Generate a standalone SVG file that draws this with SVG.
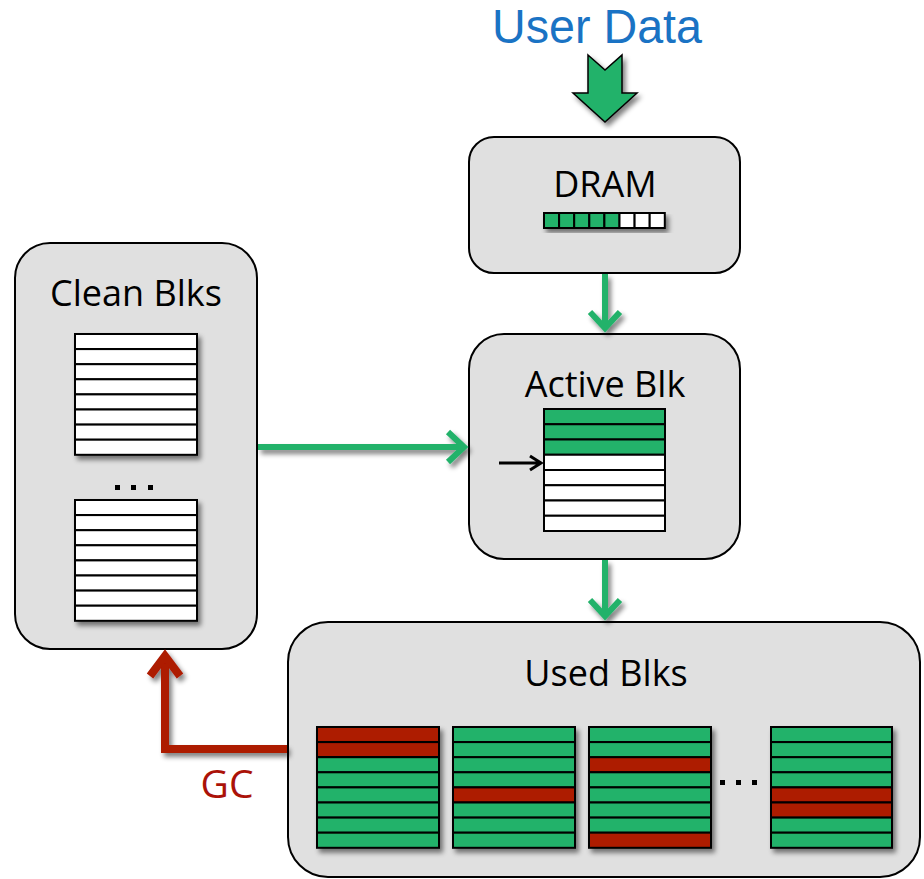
<svg xmlns="http://www.w3.org/2000/svg" width="924" height="879" viewBox="0 0 924 879">
<defs>
<style>
.box{fill:#e0e0e0;stroke:#000;stroke-width:2}
.lbl{font-family:"Open Sans","Noto Sans",sans-serif;font-size:36px;fill:#000;text-anchor:middle}
.g{fill:#23b26a;stroke:#000;stroke-width:2}
.r{fill:#ad1a00;stroke:#000;stroke-width:2}
.w{fill:#fff;stroke:#000;stroke-width:2}
.gl{fill:none;stroke:#23b26a;stroke-width:6}
.rl{fill:none;stroke:#ad1a00;stroke-width:8}
</style>
<filter id="sh" x="-20%" y="-20%" width="150%" height="150%">
<feGaussianBlur in="SourceAlpha" stdDeviation="2.5"/>
<feOffset dx="3" dy="4" result="b"/>
<feComponentTransfer><feFuncA type="linear" slope="0.5"/></feComponentTransfer>
<feMerge><feMergeNode/><feMergeNode in="SourceGraphic"/></feMerge>
</filter>
</defs>

<text x="597" y="43" font-family="Liberation Sans, Arial, sans-serif" font-size="48" fill="#1a73c4" text-anchor="middle" textLength="210" lengthAdjust="spacingAndGlyphs">User Data</text>

<g id="userdata-arrow" filter="url(#sh)">
<path d="M588,55 L605,70 L622,55 L622,93 L637,93 L605,122 L573,93 L588,93 Z" fill="#23b26a" stroke="#000" stroke-width="1.5"/>
</g>

<g id="dram">
<rect class="box" x="469" y="137" width="271" height="136" rx="25"/>
<text class="lbl" x="605" y="197">DRAM</text>
<g filter="url(#sh)">
<rect class="g" x="544" y="213" width="15.1" height="15"/>
<rect class="g" x="559.1" y="213" width="15.1" height="15"/>
<rect class="g" x="574.2" y="213" width="15.1" height="15"/>
<rect class="g" x="589.3" y="213" width="15.1" height="15"/>
<rect class="g" x="604.4" y="213" width="15.1" height="15"/>
<rect class="w" x="619.5" y="213" width="15.1" height="15"/>
<rect class="w" x="634.6" y="213" width="15.1" height="15"/>
<rect class="w" x="649.7" y="213" width="15.1" height="15"/>
</g>
</g>

<g id="active">
<rect class="box" x="469" y="334" width="271" height="225" rx="35"/>
<text class="lbl" x="605" y="397">Active Blk</text>
<g>
<rect class="g" x="544" y="409" width="121" height="15.25"/>
<rect class="g" x="544" y="424.25" width="121" height="15.25"/>
<rect class="g" x="544" y="439.5" width="121" height="15.25"/>
<rect class="w" x="544" y="454.75" width="121" height="15.25"/>
<rect class="w" x="544" y="470" width="121" height="15.25"/>
<rect class="w" x="544" y="485.25" width="121" height="15.25"/>
<rect class="w" x="544" y="500.5" width="121" height="15.25"/>
<rect class="w" x="544" y="515.75" width="121" height="15.25"/>
</g>
<path d="M499,463 L541,463 M530,456 L541,463 L530,470" fill="none" stroke="#000" stroke-width="3"/>
</g>

<g id="clean">
<rect class="box" x="15" y="243" width="242" height="406" rx="35"/>
<text class="lbl" x="136" y="306">Clean Blks</text>
<g filter="url(#sh)">
<rect class="w" x="75" y="334" width="122" height="15.1"/>
<rect class="w" x="75" y="349.1" width="122" height="15.1"/>
<rect class="w" x="75" y="364.2" width="122" height="15.1"/>
<rect class="w" x="75" y="379.3" width="122" height="15.1"/>
<rect class="w" x="75" y="394.4" width="122" height="15.1"/>
<rect class="w" x="75" y="409.5" width="122" height="15.1"/>
<rect class="w" x="75" y="424.6" width="122" height="15.1"/>
<rect class="w" x="75" y="439.7" width="122" height="15.1"/>
</g>
<g fill="#000">
<rect x="115" y="485" width="5" height="5"/>
<rect x="131" y="485" width="5" height="5"/>
<rect x="148" y="485" width="5" height="5"/>
</g>
<g filter="url(#sh)">
<rect class="w" x="75" y="500" width="122" height="15.1"/>
<rect class="w" x="75" y="515.1" width="122" height="15.1"/>
<rect class="w" x="75" y="530.2" width="122" height="15.1"/>
<rect class="w" x="75" y="545.3" width="122" height="15.1"/>
<rect class="w" x="75" y="560.4" width="122" height="15.1"/>
<rect class="w" x="75" y="575.5" width="122" height="15.1"/>
<rect class="w" x="75" y="590.6" width="122" height="15.1"/>
<rect class="w" x="75" y="605.7" width="122" height="15.1"/>
</g>
</g>

<g id="used">
<rect class="box" x="288" y="622" width="632" height="255" rx="40"/>
<text class="lbl" x="606" y="686">Used Blks</text>
<g filter="url(#sh)">
<rect class="r" x="317" y="727" width="122" height="15.1"/>
<rect class="r" x="317" y="742.1" width="122" height="15.1"/>
<rect class="g" x="317" y="757.2" width="122" height="15.1"/>
<rect class="g" x="317" y="772.3" width="122" height="15.1"/>
<rect class="g" x="317" y="787.4" width="122" height="15.1"/>
<rect class="g" x="317" y="802.5" width="122" height="15.1"/>
<rect class="g" x="317" y="817.6" width="122" height="15.1"/>
<rect class="g" x="317" y="832.7" width="122" height="15.1"/>
</g>
<g filter="url(#sh)">
<rect class="g" x="453" y="727" width="122" height="15.1"/>
<rect class="g" x="453" y="742.1" width="122" height="15.1"/>
<rect class="g" x="453" y="757.2" width="122" height="15.1"/>
<rect class="g" x="453" y="772.3" width="122" height="15.1"/>
<rect class="r" x="453" y="787.4" width="122" height="15.1"/>
<rect class="g" x="453" y="802.5" width="122" height="15.1"/>
<rect class="g" x="453" y="817.6" width="122" height="15.1"/>
<rect class="g" x="453" y="832.7" width="122" height="15.1"/>
</g>
<g filter="url(#sh)">
<rect class="g" x="589" y="727" width="122" height="15.1"/>
<rect class="g" x="589" y="742.1" width="122" height="15.1"/>
<rect class="r" x="589" y="757.2" width="122" height="15.1"/>
<rect class="g" x="589" y="772.3" width="122" height="15.1"/>
<rect class="g" x="589" y="787.4" width="122" height="15.1"/>
<rect class="g" x="589" y="802.5" width="122" height="15.1"/>
<rect class="g" x="589" y="817.6" width="122" height="15.1"/>
<rect class="r" x="589" y="832.7" width="122" height="15.1"/>
</g>
<g fill="#000">
<rect x="720" y="780" width="5" height="5"/>
<rect x="736" y="780" width="5" height="5"/>
<rect x="752" y="780" width="5" height="5"/>
</g>
<g filter="url(#sh)">
<rect class="g" x="771" y="727" width="121" height="15.1"/>
<rect class="g" x="771" y="742.1" width="121" height="15.1"/>
<rect class="g" x="771" y="757.2" width="121" height="15.1"/>
<rect class="g" x="771" y="772.3" width="121" height="15.1"/>
<rect class="r" x="771" y="787.4" width="121" height="15.1"/>
<rect class="r" x="771" y="802.5" width="121" height="15.1"/>
<rect class="g" x="771" y="817.6" width="121" height="15.1"/>
<rect class="g" x="771" y="832.7" width="121" height="15.1"/>
</g>
</g>

<g id="connectors" filter="url(#sh)">
<path class="gl" d="M605,274 L605,328"/>
<path class="gl" d="M590,312 L605,328 L620,312"/>
<path class="gl" d="M605,560 L605,616"/>
<path class="gl" d="M590,600 L605,616 L620,600"/>
<path class="gl" d="M258,447 L464,447"/>
<path class="gl" d="M448,432 L464,447 L448,462"/>
<path class="rl" d="M287,749 L165,749 L165,656"/>
<path class="rl" d="M150,676 L165,656 L180,676"/>
</g>
<text x="227" y="798" font-family="Open Sans, Noto Sans, sans-serif" font-size="39" fill="#ab1208" text-anchor="middle">GC</text>
</svg>
